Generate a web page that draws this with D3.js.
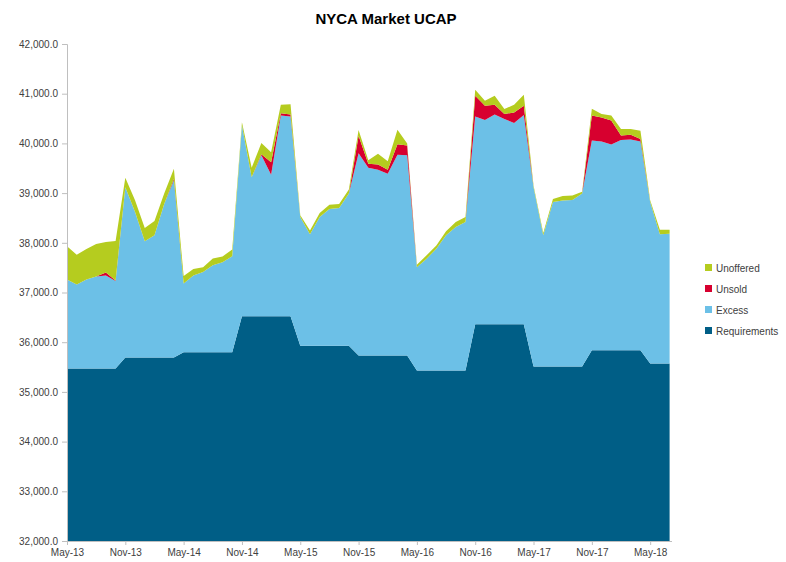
<!DOCTYPE html>
<html>
<head>
<meta charset="utf-8">
<script src="https://cdn.jsdelivr.net/npm/d3@7"></script>
<style>
  body { margin: 0; background: #fff; }
  svg { display: block; font-family: "Liberation Sans", Arial, sans-serif; }
</style>
</head>
<body>
<svg id="chart" width="786" height="562"></svg>
<script>
// months May-13 .. Jul-18
var months = [
  "2013-05","2013-06","2013-07","2013-08","2013-09","2013-10","2013-11","2013-12",
  "2014-01","2014-02","2014-03","2014-04","2014-05","2014-06","2014-07","2014-08","2014-09","2014-10","2014-11","2014-12",
  "2015-01","2015-02","2015-03","2015-04","2015-05","2015-06","2015-07","2015-08","2015-09","2015-10","2015-11","2015-12",
  "2016-01","2016-02","2016-03","2016-04","2016-05","2016-06","2016-07","2016-08","2016-09","2016-10","2016-11","2016-12",
  "2017-01","2017-02","2017-03","2017-04","2017-05","2017-06","2017-07","2017-08","2017-09","2017-10","2017-11","2017-12",
  "2018-01","2018-02","2018-03","2018-04","2018-05","2018-06","2018-07"
];

var requirements = [
  35470,35470,35470,35470,35470,35470, 35690,35690,35690,35690,35690,35690,
  35800,35800,35800,35800,35800,35800, 36520,36520,36520,36520,36520,36520,
  35930,35930,35930,35930,35930,35930, 35730,35730,35730,35730,35730,35730,
  35430,35430,35430,35430,35430,35430, 36360,36360,36360,36360,36360,36360,
  35510,35510,35510,35510,35510,35510, 35840,35840,35840,35840,35840,35840,
  35570,35570,35570
];

var excess = [
  1790,1690,1790,1850,1870,1760, 3430,2930,2340,2460,3090,3570,
  1380,1540,1610,1750,1810,1930, 3840,2800,3240,2850,4040,4020,
  2590,2240,2590,2750,2770,3060, 4070,3780,3740,3660,4040,4030,
  2080,2250,2450,2720,2890,2990, 4180,4110,4220,4130,4050,4210,
  3610,2640,3310,3340,3350,3480, 4220,4200,4140,4230,4240,4200,
  3250,2600,2610
];

var unsold = [
  0,0,0,0,60,10, 0,0,0,0,0,30,
  0,0,0,0,0,0, 0,0,20,250,45,40,
  0,0,0,0,0,0, 355,80,106,80,215,200,
  0,0,0,0,0,0, 420,287,200,100,214,187,
  0,0,0,0,0,0, 500,480,480,88,95,48,
  0,0,0
];

var unoffered = [
  670,600,615,655,615,795, 190,235,270,290,210,200,
  150,135,100,135,115,135, 65,190,230,200,175,210,
  35,80,80,87,80,80, 115,70,215,173,290,40,
  48,67,67,81,100,100, 120,100,180,100,154,221,
  35,47,60,90,90,35, 135,70,100,134,114,167,
  34,95,82
];

var tickMonths = ["2013-05","2013-11","2014-05","2014-11","2015-05","2015-11","2016-05","2016-11","2017-05","2017-11","2018-05"];
var tickLabels = ["May-13","Nov-13","May-14","Nov-14","May-15","Nov-15","May-16","Nov-16","May-17","Nov-17","May-18"];

var yTicks = [32000,33000,34000,35000,36000,37000,38000,39000,40000,41000,42000];

var seriesKeys = ["requirements","excess","unsold","unoffered"];
var seriesNames = {requirements: "Requirements", excess: "Excess", unsold: "Unsold", unoffered: "Unoffered"};
var colors = {requirements: "#005e86", excess: "#6cc0e7", unsold: "#d7002f", unoffered: "#b5cc1f"};

var rows = months.map(function (m, i) {
  return {
    month: m,
    requirements: requirements[i],
    excess: excess[i],
    unsold: unsold[i],
    unoffered: unoffered[i]
  };
});

var svg = d3.select("#chart");
var plotLeft = 67, plotRight = 669.6, plotTop = 44, plotBottom = 541;

var x = d3.scalePoint().domain(months).range([plotLeft, plotRight]);
var y = d3.scaleLinear().domain([32000, 42000]).range([plotBottom, plotTop]);

var stack = d3.stack().keys(seriesKeys);
var layers = stack(rows);

var area = d3.area()
  .x(function (d) { return x(d.data.month); })
  .y0(function (d) { return y(Math.max(d[0], 32000)); })
  .y1(function (d) { return y(d[1]); });

svg.append("g")
  .selectAll("path")
  .data(layers)
  .enter().append("path")
  .attr("d", area)
  .style("fill", function (d) { return colors[d.key]; })
  .style("stroke", "none");

// y axis
var yAxis = d3.axisLeft(y)
  .tickValues(yTicks)
  .tickSize(5)
  .tickFormat(function (d) { return d3.format(",.1f")(d); });

var gy = svg.append("g")
  .attr("transform", "translate(" + plotLeft + ",0)")
  .call(yAxis);
gy.select(".domain").style("stroke", "#bfbfbf");
gy.selectAll(".tick line").style("stroke", "#bfbfbf");
gy.selectAll(".tick text")
  .attr("x", -9)
  .style("font-size", "10px")
  .style("fill", "#404040");

// x axis
var xAxis = d3.axisBottom(x)
  .tickValues(tickMonths)
  .tickSize(4)
  .tickFormat(function (d, i) { return tickLabels[i]; });

var gx = svg.append("g")
  .attr("transform", "translate(0," + plotBottom + ")")
  .call(xAxis);
gx.select(".domain").attr("d", "M" + plotLeft + ",0.5H672").style("stroke", "#bfbfbf");
gx.selectAll(".tick line").style("stroke", "#bfbfbf");
gx.selectAll(".tick text")
  .attr("y", 8)
  .style("font-size", "10px")
  .style("fill", "#404040");

// title
svg.append("text")
  .attr("x", 386)
  .attr("y", 24)
  .attr("text-anchor", "middle")
  .style("font-size", "15px")
  .style("font-weight", "bold")
  .style("fill", "#000")
  .text("NYCA Market UCAP");

// legend (top to bottom: reverse stack order)
var legendKeys = seriesKeys.slice().reverse();
var legend = svg.append("g")
  .selectAll("g")
  .data(legendKeys)
  .enter().append("g")
  .attr("transform", function (d, i) { return "translate(705," + (268 + i * 21) + ")"; });

legend.append("rect")
  .attr("x", 0).attr("y", -4)
  .attr("width", 7).attr("height", 7)
  .style("fill", function (d) { return colors[d]; });

legend.append("text")
  .attr("x", 11)
  .attr("y", 3.5)
  .style("font-size", "10px")
  .style("fill", "#404040")
  .text(function (d) { return seriesNames[d]; });
</script>
</body>
</html>
